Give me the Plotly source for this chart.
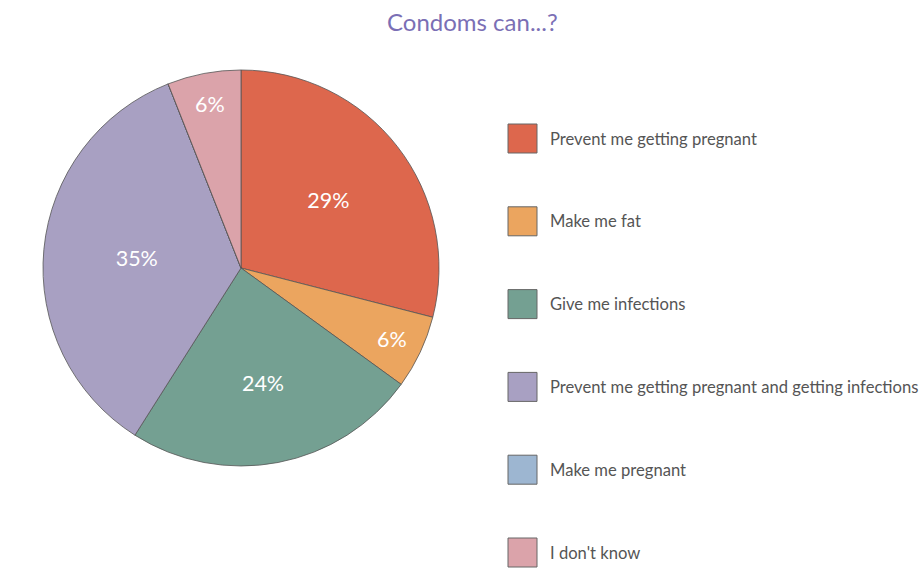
import plotly.graph_objects as go

labels = ["Prevent me getting pregnant", "Make me fat", "Give me infections",
          "Prevent me getting pregnant and getting infections", "Make me pregnant", "I don't know"]
values = [29, 6, 24, 35, 0, 6]
colors = ["#dd674d", "#eba55f", "#74a092", "#a8a0c2", "#9db6d1", "#dba3aa"]
title_text = "Condoms can...?"

W, H = 924, 568
FONT = "Lato, 'Open Sans', sans-serif"

slice_text = [f"{v}%" if v > 0 else "" for v in values]

fig = go.Figure()
fig.add_trace(go.Pie(
    labels=labels, values=values, text=slice_text, textinfo="text",
    sort=False, direction="clockwise", rotation=0,
    marker=dict(colors=colors, line=dict(color="#555555", width=0.8)),
    textposition="inside", insidetextorientation="horizontal",
    insidetextfont=dict(color="white", size=21.5, family=FONT),
    domain=dict(x=[(241 - 198) / W, (241 + 198) / W], y=[(568 - 466) / H, (568 - 70) / H]),
    showlegend=False, hoverinfo="label+percent",
))

# manual legend
shapes, annotations = [], []
y0 = 138.5
step = 82.8
for i, (lab, col) in enumerate(zip(labels, colors)):
    yc = y0 + i * step
    shapes.append(dict(type="rect", xref="paper", yref="paper",
                       x0=508 / W, x1=537 / W, y0=1 - (yc + 14.5) / H, y1=1 - (yc - 14.5) / H,
                       fillcolor=col, line=dict(color="#666666", width=1)))
    annotations.append(dict(xref="paper", yref="paper", x=548 / W, y=1 - yc / H,
                            text=lab, showarrow=False, xanchor="left", yanchor="middle",
                            font=dict(size=16.6, color="#555555", family=FONT)))

annotations.append(dict(xref="paper", yref="paper", x=472 / W, y=1 - 22 / H, text=title_text,
                        showarrow=False, xanchor="center", yanchor="middle",
                        font=dict(size=24, color="#7b6fb5", family=FONT)))

fig.update_layout(
    width=W, height=H, margin=dict(l=0, r=0, t=0, b=0),
    paper_bgcolor="white", plot_bgcolor="white",
    shapes=shapes, annotations=annotations,
)
fig.write_html("out.html", config={"displayModeBar": False},
               post_script="document.body.style.margin='0';document.body.style.overflow='hidden';")
